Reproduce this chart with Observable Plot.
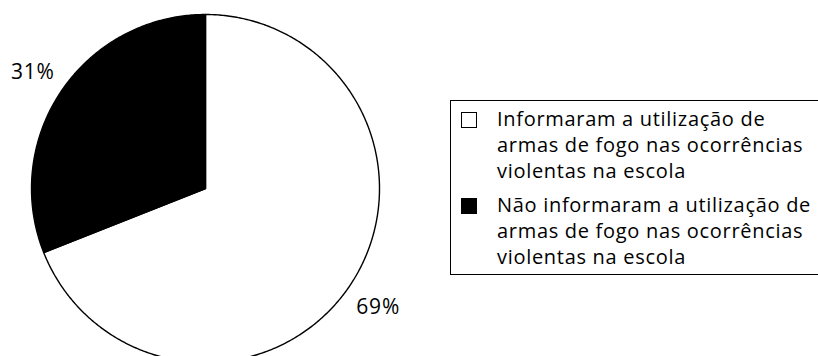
<!DOCTYPE html>
<html>
<head>
<meta charset="utf-8">
<script src="https://cdn.jsdelivr.net/npm/d3@7"></script>
<script src="https://cdn.jsdelivr.net/npm/@observablehq/plot@0.6"></script>
<style>
  html, body { margin: 0; padding: 0; background: #fff; overflow: hidden; }
  #wrap { position: relative; width: 818px; height: 356px; }
  #legend {
    position: absolute; left: 450px; top: 100px; width: 380px; height: 175px;
    border: 1.5px solid #000; box-sizing: border-box; padding: 5px 0 0 9px;
    font-family: "Open Sans", sans-serif; font-size: 20px; line-height: 26px; color: #000;
    letter-spacing: 0.7px;
  }
  .item { display: flex; align-items: flex-start; margin-bottom: 8px; }
  .sw { width: 16px; height: 16px; border: 1.5px solid #000; box-sizing: border-box; margin: 6px 20px 0 1px; flex: none; }
</style>
</head>
<body>
<div id="wrap"></div>
<script>
const categories = [
  "Informaram a utilização de armas de fogo nas ocorrências violentas na escola",
  "Não informaram a utilização de armas de fogo nas ocorrências violentas na escola"
];
const values = [69, 31];
const labels = ["69%", "31%"];
const colors = ["#ffffff", "#000000"];

const total = d3.sum(values);
let acc = 0;
const slices = values.map((v, i) => {
  const a0 = acc / total * 2 * Math.PI;
  acc += v;
  const a1 = acc / total * 2 * Math.PI;
  return {cat: categories[i], value: v, label: labels[i], a0, a1, color: colors[i]};
});

// polygon points for each slice (center + arc)
const pts = [];
for (const s of slices) {
  pts.push({cat: s.cat, x: 0, y: 0});
  const n = Math.max(2, Math.ceil((s.a1 - s.a0) / 0.01));
  for (let k = 0; k <= n; k++) {
    const a = s.a0 + (s.a1 - s.a0) * k / n;
    pts.push({cat: s.cat, x: Math.sin(a), y: Math.cos(a)});
  }
  pts.push({cat: s.cat, x: 0, y: 0});
}
const labelPts = slices.map(s => {
  const m = (s.a0 + s.a1) / 2;
  return {label: s.label, x: 1.2 * Math.sin(m), y: 1.2 * Math.cos(m)};
});

const cx = 205, cy = 188, r = 174;
const plot = Plot.plot({
  width: 818, height: 356,
  margin: 0,
  x: {domain: [-1, 1], range: [cx - r, cx + r], axis: null},
  y: {domain: [-1, 1], range: [cy + r, cy - r], axis: null},
  color: {domain: categories, range: colors},
  style: {background: "#fff", overflow: "hidden"},
  marks: [
    Plot.line(pts, {x: "x", y: "y", z: "cat", fill: "cat", stroke: "#000", strokeWidth: 1.4, curve: "linear"}),
    Plot.text(labelPts, {x: "x", y: "y", dy: 1, text: "label", fontSize: 21, fontFamily: "Open Sans", fill: "#000"})
  ]
});
const wrap = document.getElementById("wrap");
wrap.appendChild(plot);
plot.querySelectorAll("text").forEach(t => t.style.letterSpacing = "0.8px");

const legend = document.createElement("div");
legend.id = "legend";
slices.forEach(s => {
  const it = document.createElement("div");
  it.className = "item";
  const sw = document.createElement("div");
  sw.className = "sw";
  sw.style.background = s.color;
  const tx = document.createElement("div");
  tx.textContent = s.cat;
  tx.style.width = "320px";
  it.appendChild(sw); it.appendChild(tx);
  legend.appendChild(it);
});
wrap.appendChild(legend);
</script>
</body>
</html>
